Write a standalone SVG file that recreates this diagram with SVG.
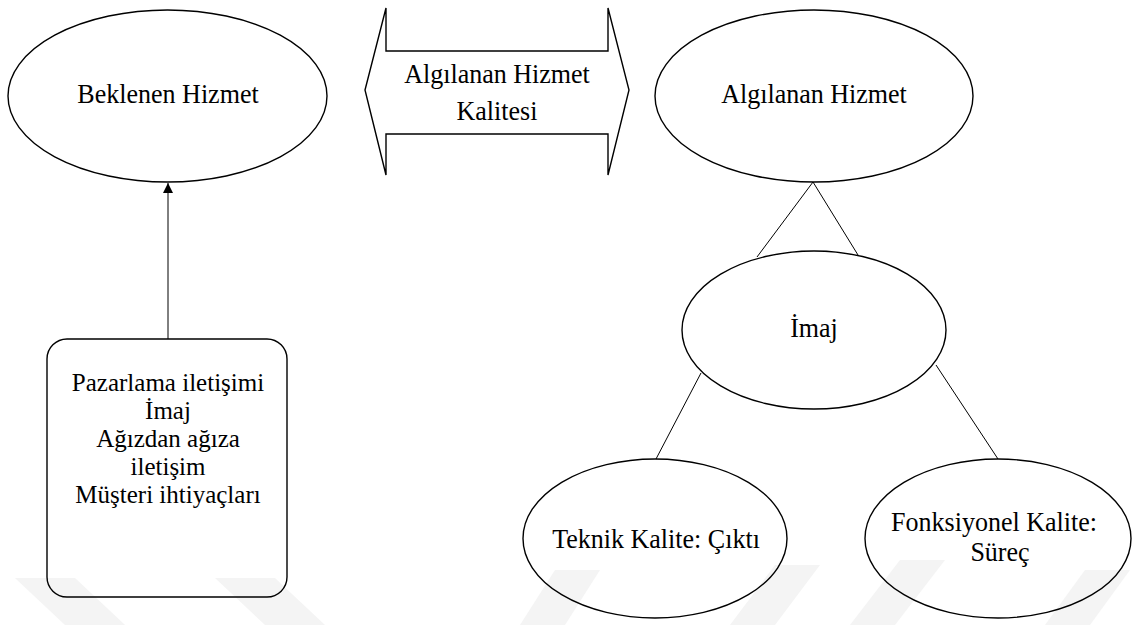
<svg xmlns="http://www.w3.org/2000/svg" width="1133" height="625" viewBox="0 0 1133 625">
<style>
.shape{fill:none;stroke:#000;stroke-width:1.4}
.line{fill:none;stroke:#000;stroke-width:1}
.wm{fill:#f4f4f4;stroke:none}
.t{font-family:"Liberation Serif","Times New Roman",serif;font-size:28px;fill:#000;text-anchor:middle}
.b{font-family:"Liberation Serif","Times New Roman",serif;font-size:25px;fill:#000;text-anchor:middle}
</style>
<defs>
<marker id="arr" viewBox="0 0 10 10" refX="10" refY="5" markerWidth="12" markerHeight="10" markerUnits="userSpaceOnUse" orient="auto">
<path d="M0,0 L10,5 L0,10 z" fill="#000"/>
</marker>
</defs>
<rect width="1133" height="625" fill="#fff"/>
<g id="watermark">
<polygon class="wm" points="15,578 75,578 125,625 65,625"/>
<polygon class="wm" points="215,578 275,578 325,625 265,625"/>
<polygon class="wm" points="555,570 600,570 565,625 520,625"/>
<polygon class="wm" points="775,565 820,565 775,625 730,625"/>
<polygon class="wm" points="900,560 945,560 895,625 850,625"/>
<polygon class="wm" points="1085,570 1130,570 1090,625 1045,625"/>
</g>
<g id="connectors">
<line class="line" x1="168" y1="339" x2="168" y2="183" marker-end="url(#arr)"/>
<line class="line" x1="813" y1="182" x2="757" y2="257"/>
<line class="line" x1="813" y1="182" x2="858" y2="255"/>
<line class="line" x1="701" y1="373" x2="656" y2="459"/>
<line class="line" x1="936" y1="365" x2="998" y2="459"/>
</g>
<g id="beklenen">
<ellipse class="shape" cx="167.5" cy="96" rx="159.5" ry="86"/>
<text class="t" transform="translate(168,103) scale(0.93,1)">Beklenen Hizmet</text>
</g>
<g id="kalite-arrow">
<polygon class="shape" points="365,90 386,8 386,51 608,51 608,8 629,90 608,175 608,134 386,134 386,175"/>
<text class="t" transform="translate(497,83) scale(0.93,1)">Algılanan Hizmet</text>
<text class="t" transform="translate(497,120) scale(0.93,1)">Kalitesi</text>
</g>
<g id="algilanan">
<ellipse class="shape" cx="814" cy="96" rx="159" ry="86"/>
<text class="t" transform="translate(814,103) scale(0.93,1)">Algılanan Hizmet</text>
</g>
<g id="imaj">
<ellipse class="shape" cx="814" cy="330" rx="132" ry="79"/>
<text class="t" transform="translate(814,337) scale(0.93,1)">İmaj</text>
</g>
<g id="kaynaklar">
<rect class="shape" x="47" y="339" width="240" height="258" rx="20" ry="20"/>
<text class="b" x="168" y="391">Pazarlama iletişimi</text>
<text class="b" x="168" y="419">İmaj</text>
<text class="b" x="168" y="447">Ağızdan ağıza</text>
<text class="b" x="168" y="475">iletişim</text>
<text class="b" x="168" y="503">Müşteri ihtiyaçları</text>
</g>
<g id="teknik">
<ellipse class="shape" cx="655" cy="538.5" rx="132" ry="79.5"/>
<text class="t" transform="translate(656,548) scale(0.93,1)">Teknik Kalite: Çıktı</text>
</g>
<g id="fonksiyonel">
<ellipse class="shape" cx="998" cy="538.5" rx="133" ry="79.5"/>
<text class="t" transform="translate(994,531) scale(0.93,1)">Fonksiyonel Kalite:</text>
<text class="t" transform="translate(1000,561) scale(0.93,1)">Süreç</text>
</g>
</svg>
